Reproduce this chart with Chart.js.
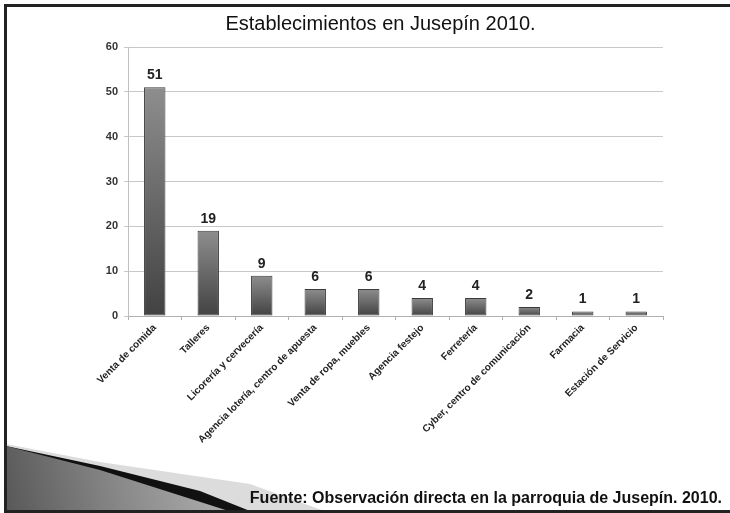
<!DOCTYPE html>
<html>
<head>
<meta charset="utf-8">
<script src="https://cdn.jsdelivr.net/npm/chart.js@4.4.1/dist/chart.umd.min.js"></script>
<style>
  html, body { margin: 0; padding: 0; background: #fff; }
  #wrap { width: 730px; height: 513px; }
</style>
</head>
<body>
<div id="wrap"><canvas id="chart" width="730" height="513"></canvas></div>
<script>
const categories = [
  'Venta de comida',
  'Talleres',
  'Licorería y cervecería',
  'Agencia lotería, centro de apuesta',
  'Venta de ropa, muebles',
  'Agencia festejo',
  'Ferretería',
  'Cyber, centro de comunicación',
  'Farmacia',
  'Estación de Servicio',
];
const counts = [51, 19, 9, 6, 6, 4, 4, 2, 1, 1];
const yMax = 60;
const yStep = 10;

const titleText = 'Establecimientos en Jusepín 2010.';
const sourceText = 'Fuente: Observación directa en la parroquia de Jusepín. 2010.';

function poly(ctx, pts) {
  ctx.beginPath();
  ctx.moveTo(pts[0][0], pts[0][1]);
  for (let i = 1; i < pts.length; i++) ctx.lineTo(pts[i][0], pts[i][1]);
  ctx.closePath();
  ctx.fill();
}

// background, slide frame and the grey swoosh bottom left
const slideBackground = {
  id: 'slideBackground',
  beforeDraw(chart) {
    const ctx = chart.ctx;
    const w = chart.width, h = chart.height;
    ctx.save();
    ctx.fillStyle = '#fff';
    ctx.fillRect(0, 0, w, h);

    // light band
    ctx.fillStyle = '#dcdcdc';
    poly(ctx, [[6, 444], [100, 462], [250, 484], [330, 513], [6, 513]]);

    // black band
    ctx.fillStyle = '#111';
    poly(ctx, [[6, 446], [100, 466], [200, 491], [255, 513], [6, 513]]);

    // dark grey wedge
    const g = ctx.createLinearGradient(6, 513, 200, 470);
    g.addColorStop(0, '#585858');
    g.addColorStop(0.6, '#8a8a8a');
    g.addColorStop(1, '#a6a6a6');
    ctx.fillStyle = g;
    poly(ctx, [[6, 446], [100, 470], [235, 513], [6, 513]]);

    // frame
    ctx.fillStyle = '#222';
    ctx.fillRect(4, 4, w - 4, 3);
    ctx.fillRect(4, 4, 3, h - 4);
    ctx.fillRect(4, h - 3, w - 4, 3);
    ctx.restore();
  },
};

// value above each bar + source line
const valueLabels = {
  id: 'valueLabels',
  afterDatasetsDraw(chart) {
    const ctx = chart.ctx;
    const meta = chart.getDatasetMeta(0);
    ctx.save();
    ctx.font = 'bold 14px "Liberation Sans", Arial, sans-serif';
    ctx.fillStyle = '#222';
    ctx.textAlign = 'center';
    ctx.textBaseline = 'bottom';
    meta.data.forEach((bar, i) => {
      ctx.fillText(String(counts[i]), bar.x, bar.y - 5);
    });

    ctx.font = 'bold 16px "Liberation Sans", Arial, sans-serif';
    ctx.fillStyle = '#111';
    ctx.textAlign = 'right';
    ctx.textBaseline = 'alphabetic';
    ctx.fillText(sourceText, 722, 503);
    ctx.restore();
  },
};

function barFill(context) {
  const chart = context.chart;
  const area = chart.chartArea;
  if (!area) return '#666';
  const yScale = chart.scales.y;
  const top = yScale.getPixelForValue(context.raw);
  const g = chart.ctx.createLinearGradient(0, top, 0, area.bottom);
  g.addColorStop(0, '#8e8e8e');
  g.addColorStop(1, '#424242');
  return g;
}

new Chart(document.getElementById('chart'), {
  type: 'bar',
  data: {
    labels: categories,
    datasets: [
      {
        data: counts,
        backgroundColor: barFill,
        borderColor: '#3a3a3a',
        borderWidth: 1,
        borderSkipped: false,
        categoryPercentage: 1,
        barPercentage: 0.4,
      },
    ],
  },
  options: {
    responsive: false,
    devicePixelRatio: 1,
    animation: false,
    layout: {
      padding: { left: 98, right: 67, top: 0, bottom: 27 },
    },
    plugins: {
      legend: { display: false },
      tooltip: { enabled: false },
      title: {
        display: true,
        text: titleText,
        color: '#111',
        font: { family: '"Liberation Sans", Arial', size: 20, weight: 'normal' },
        padding: { top: 12, bottom: 11 },
      },
    },
    scales: {
      x: {
        grid: {
          display: true,
          drawOnChartArea: false,
          drawTicks: true,
          tickLength: 4,
          color: '#b0b0b0',
        },
        border: { color: '#b0b0b0' },
        ticks: {
          color: '#222',
          font: { family: '"Liberation Sans", Arial', size: 10, weight: 'bold' },
          minRotation: 45,
          maxRotation: 45,
          autoSkip: false,
          padding: 2,
        },
        afterFit(scale) {
          scale.height = 170;
        },
      },
      y: {
        min: 0,
        max: yMax,
        grid: {
          color: '#c8c8c8',
          drawTicks: true,
          tickLength: 4,
        },
        border: { color: '#c0c0c0' },
        ticks: {
          stepSize: yStep,
          color: '#333',
          font: { family: '"Liberation Sans", Arial', size: 11, weight: 'bold' },
          padding: 6,
        },
        afterFit(scale) {
          scale.width = 30;
        },
      },
    },
  },
  plugins: [slideBackground, valueLabels],
});
</script>
</body>
</html>
